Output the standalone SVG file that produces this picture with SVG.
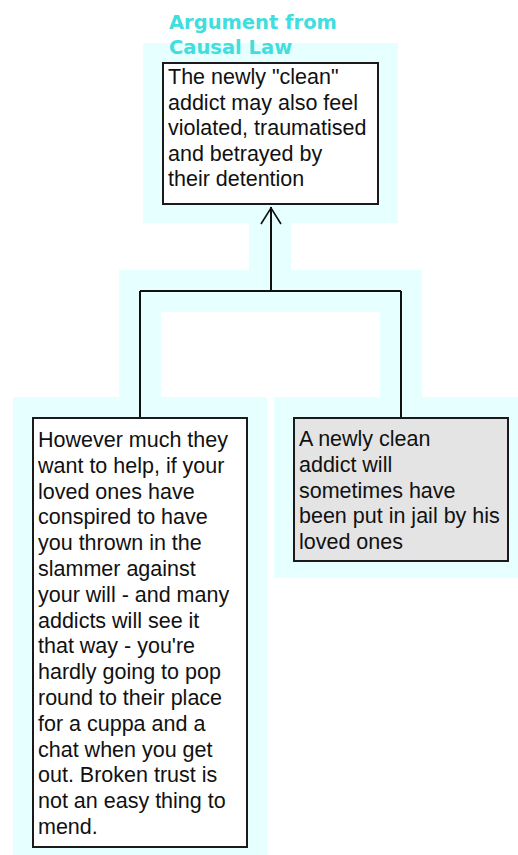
<svg xmlns="http://www.w3.org/2000/svg" width="518" height="855" viewBox="0 0 518 855">
  <style>
    .halo { fill: #e6ffff; }
    .halo-line { fill: none; stroke: #e6ffff; stroke-width: 42; stroke-linejoin: miter; stroke-linecap: butt; }
    .box { stroke: #1a1a1a; stroke-width: 2; }
    .plain { fill: #ffffff; }
    .shaded { fill: #e4e4e4; }
    .txt { font-family: "Liberation Sans", Arial, sans-serif; font-size: 21.5px; fill: #111111; }
    .title { font-family: "DejaVu Sans", "Liberation Sans", sans-serif; font-weight: bold; font-size: 19.5px; fill: #40dede; }
    .wire { fill: none; stroke: #111111; stroke-width: 2; }
    .head { fill: none; stroke: #111111; stroke-width: 1.6; stroke-linejoin: miter; }
  </style>

  <!-- highlight backgrounds -->
  <g id="highlight">
    <rect class="halo" x="143" y="43" width="255" height="180"/>
    <path class="halo-line" d="M270,222 V291 H140 V398 M270,291 H401 V398"/>
    <rect class="halo" x="13" y="397" width="254" height="458"/>
    <rect class="halo" x="274" y="397" width="254" height="181"/>
  </g>

  <!-- connectors -->
  <g id="connectors">
    <path class="wire" d="M271,207 V291 M140,291 H401 M140,291 V418 M401,291 V418"/>
    <polyline class="head" points="261,224 271,208 281,224"/>
  </g>

  <!-- conclusion -->
  <g id="conclusion">
    <text class="title" x="169" y="29">Argument from</text>
    <text class="title" x="169" y="54">Causal Law</text>
    <rect class="box plain" x="163" y="63" width="215" height="141"/>
    <text class="txt" x="168" y="84">
      <tspan x="168" y="84">The newly "clean"</tspan>
      <tspan x="168" y="109.5">addict may also feel</tspan>
      <tspan x="168" y="135">violated, traumatised</tspan>
      <tspan x="168" y="160.5">and betrayed by</tspan>
      <tspan x="168" y="186">their detention</tspan>
    </text>
  </g>

  <!-- left premise -->
  <g id="premise-left">
    <rect class="box plain" x="33" y="418" width="214" height="429"/>
    <text class="txt">
      <tspan x="38" y="447">However much they</tspan>
      <tspan x="38" y="472.8">want to help, if your</tspan>
      <tspan x="38" y="498.6">loved ones have</tspan>
      <tspan x="38" y="524.4">conspired to have</tspan>
      <tspan x="38" y="550.2">you thrown in the</tspan>
      <tspan x="38" y="576">slammer against</tspan>
      <tspan x="38" y="601.8">your will - and many</tspan>
      <tspan x="38" y="627.6">addicts will see it</tspan>
      <tspan x="38" y="653.4">that way - you're</tspan>
      <tspan x="38" y="679.2">hardly going to pop</tspan>
      <tspan x="38" y="705">round to their place</tspan>
      <tspan x="38" y="730.8">for a cuppa and a</tspan>
      <tspan x="38" y="756.6">chat when you get</tspan>
      <tspan x="38" y="782.4">out. Broken trust is</tspan>
      <tspan x="38" y="808.2">not an easy thing to</tspan>
      <tspan x="38" y="834">mend.</tspan>
    </text>
  </g>

  <!-- right premise -->
  <g id="premise-right">
    <rect class="box shaded" x="294" y="418" width="214" height="143"/>
    <text class="txt">
      <tspan x="299" y="446">A newly clean</tspan>
      <tspan x="299" y="471.8">addict will</tspan>
      <tspan x="299" y="497.6">sometimes have</tspan>
      <tspan x="299" y="523.4">been put in jail by his</tspan>
      <tspan x="299" y="549.2">loved ones</tspan>
    </text>
  </g>
</svg>
